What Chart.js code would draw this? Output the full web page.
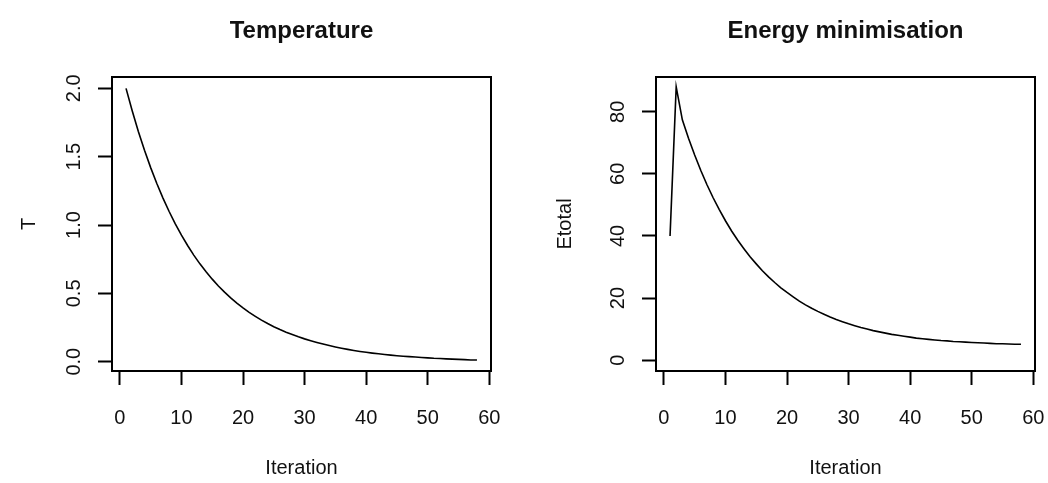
<!DOCTYPE html>
<html>
<head>
<meta charset="utf-8">
<script src="https://cdn.jsdelivr.net/npm/chart.js@4.4.0/dist/chart.umd.min.js"></script>
<style>
    html, body { margin: 0; padding: 0; background: #fff; }
    #wrap { position: relative; width: 1048px; height: 483px; }
    canvas { position: absolute; top: 0; }
    #tempChart { left: 0; }
    #energyChart { left: 524px; }
</style>
</head>
<body>
<div id="wrap">
    <canvas id="tempChart" width="524" height="483"></canvas>
    <canvas id="energyChart" width="524" height="483"></canvas>
</div>
<script>
// Annealing run: one value per iteration
const iterations = [
    1, 2, 3, 4, 5, 6, 7, 8, 9, 10,
    11, 12, 13, 14, 15, 16, 17, 18, 19, 20,
    21, 22, 23, 24, 25, 26, 27, 28, 29, 30,
    31, 32, 33, 34, 35, 36, 37, 38, 39, 40,
    41, 42, 43, 44, 45, 46, 47, 48, 49, 50,
    51, 52, 53, 54, 55, 56, 57, 58
];

const temperature = [
    2.000, 1.836, 1.685, 1.547, 1.420, 1.304, 1.197, 1.099, 1.009, 0.926,
    0.850, 0.780, 0.716, 0.658, 0.604, 0.554, 0.509, 0.467, 0.429, 0.394,
    0.361, 0.332, 0.304, 0.279, 0.256, 0.235, 0.216, 0.199, 0.182, 0.167,
    0.154, 0.141, 0.129, 0.118, 0.108, 0.099, 0.090, 0.082, 0.075, 0.069,
    0.063, 0.058, 0.053, 0.048, 0.044, 0.040, 0.037, 0.034, 0.031, 0.028,
    0.025, 0.023, 0.021, 0.019, 0.017, 0.015, 0.013, 0.012
];

const energy = [
    40.0, 88.0, 77.4, 71.5, 66.1, 61.1, 56.5, 52.3, 48.5, 44.9,
    41.6, 38.6, 35.9, 33.3, 31.0, 28.8, 26.8, 25.0, 23.3, 21.8,
    20.4, 19.0, 17.8, 16.7, 15.7, 14.8, 13.9, 13.1, 12.4, 11.7,
    11.1, 10.5, 10.0, 9.5, 9.1, 8.7, 8.3, 8.0, 7.7, 7.4,
    7.1, 6.9, 6.7, 6.5, 6.3, 6.2, 6.0, 5.9, 5.8, 5.7,
    5.6, 5.5, 5.4, 5.3, 5.3, 5.2, 5.1, 5.1
];

// Axis ticks
const iterationTicks = [0, 10, 20, 30, 40, 50, 60];
const temperatureTicks = [0, 0.5, 1, 1.5, 2];
const temperatureTickLabels = ['0.0', '0.5', '1.0', '1.5', '2.0'];
const energyTicks = [0, 20, 40, 60, 80];
const energyTickLabels = ['0', '20', '40', '60', '80'];

const FONT = '"Liberation Sans", Arial, sans-serif';
const INK = '#111';

/**
 * Box around the plot region, a title centred over it, and vertical
 * y tick labels (Chart.js won't rotate labels on a vertical scale)
 */
const boxAndYLabels = {
    id: 'boxAndYLabels',
    afterDraw(chart, args, opts) {
        const { ctx, chartArea: a } = chart;
        const y = chart.scales.y;
        ctx.save();
        ctx.strokeStyle = '#000';
        ctx.lineWidth = 2;
        ctx.strokeRect(a.left, a.top, a.right - a.left, a.bottom - a.top);

        ctx.fillStyle = INK;
        ctx.textAlign = 'center';
        ctx.textBaseline = 'middle';

        ctx.font = 'bold 24px ' + FONT;
        ctx.fillText(opts.title, (a.left + a.right) / 2, 31);

        ctx.font = '20px ' + FONT;
        y.ticks.forEach((t, i) => {
            const py = y.getPixelForValue(t.value);
            ctx.save();
            ctx.translate(a.left - opts.offset, py);
            ctx.rotate(-Math.PI / 2);
            ctx.fillText(opts.labels[i], 0, 0);
            ctx.restore();
        });
        ctx.restore();
    }
};

function makePanel(canvasId, cfg) {
    return new Chart(document.getElementById(canvasId), {
        type: 'line',
        data: {
            labels: iterations,
            datasets: [{
                data: cfg.values,
                borderColor: '#000',
                borderWidth: 1.6,
                pointRadius: 0,
                tension: 0,
                fill: false
            }]
        },
        options: {
            responsive: false,
            animation: false,
            events: [],
            layout: {
                padding: { left: 0, right: cfg.padRight, top: 77, bottom: 0 }
            },
            plugins: {
                legend: { display: false },
                tooltip: { enabled: false },
                title: { display: false },
                boxAndYLabels: { title: cfg.title, labels: cfg.yLabels, offset: 38 }
            },
            scales: {
                x: {
                    type: 'linear',
                    min: -1.28,
                    max: 60.28,
                    // fixed height, and no extra room for the end labels
                    afterFit: scale => {
                        scale.height = 112;
                        scale.paddingLeft = 0;
                        scale.paddingRight = 0;
                    },
                    afterBuildTicks: scale => {
                        scale.ticks = iterationTicks.map(v => ({ value: v }));
                    },
                    border: { display: false },
                    grid: {
                        drawOnChartArea: false,
                        drawTicks: true,
                        tickLength: 14,
                        tickWidth: 2,
                        tickColor: '#000'
                    },
                    ticks: {
                        color: INK,
                        padding: 21,
                        maxRotation: 0,
                        font: { family: FONT, size: 20 }
                    },
                    title: {
                        display: true,
                        text: 'Iteration',
                        color: INK,
                        font: { family: FONT, size: 20, lineHeight: 1.2 },
                        padding: { top: 0, bottom: 3 }
                    }
                },
                y: {
                    type: 'linear',
                    min: cfg.yMin,
                    max: cfg.yMax,
                    afterFit: scale => {
                        scale.width = cfg.yWidth;
                        scale.paddingTop = 0;
                        scale.paddingBottom = 0;
                    },
                    afterBuildTicks: scale => {
                        scale.ticks = cfg.yTicks.map(v => ({ value: v }));
                    },
                    border: { display: false },
                    grid: {
                        drawOnChartArea: false,
                        drawTicks: true,
                        tickLength: 14,
                        tickWidth: 2,
                        tickColor: '#000'
                    },
                    ticks: { display: false },
                    title: {
                        display: true,
                        text: cfg.yTitle,
                        color: INK,
                        font: { family: FONT, size: 20, lineHeight: 1.2 },
                        padding: { top: cfg.yTitlePad, bottom: 0 }
                    }
                }
            }
        },
        plugins: [boxAndYLabels]
    });
}

makePanel('tempChart', {
    title: 'Temperature',
    values: temperature,
    yTitle: 'T',
    yTicks: temperatureTicks,
    yLabels: temperatureTickLabels,
    yMin: -0.068,
    yMax: 2.083,
    yWidth: 112,
    yTitlePad: 17,
    padRight: 33
});

makePanel('energyChart', {
    title: 'Energy minimisation',
    values: energy,
    yTitle: 'Etotal',
    yTicks: energyTicks,
    yLabels: energyTickLabels,
    yMin: -3.5,
    yMax: 91.2,
    yWidth: 132,
    yTitlePad: 29,
    padRight: 13
});
</script>
</body>
</html>
